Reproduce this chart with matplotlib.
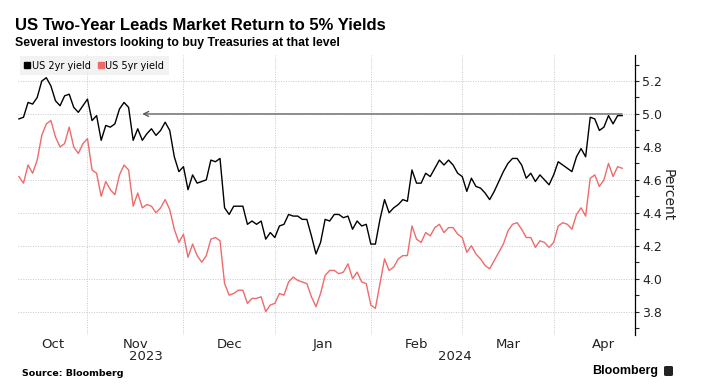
"""US 2yr vs 5yr Treasury yields, Bloomberg style chart."""

import matplotlib

matplotlib.use("Agg")
import matplotlib.pyplot as plt
import numpy as np
import pandas as pd
from matplotlib.lines import Line2D
from matplotlib.patches import FancyBboxPatch
from matplotlib.ticker import MultipleLocator

plt.rcParams["font.family"] = ["DejaVu Sans"]
NARROW = ["Liberation Sans Narrow", "Liberation Sans", "DejaVu Sans"]

BLACK = "#000000"
RED = "#ee6b6b"
GRID = "#c8c8c8"

# trading days (US bond market holidays removed)
START = "2023-10-11"
HOLIDAYS = ["2023-10-09", "2023-11-23", "2023-12-25", "2024-01-01",
            "2024-01-15", "2024-02-19", "2024-03-29"]

two_year = [
    4.97, 4.98, 5.07, 5.06, 5.10, 5.20, 5.22, 5.17, 5.08, 5.05, 5.11, 5.12, 5.04, 5.01, 5.05,
    5.09, 4.96, 4.99, 4.84, 4.93, 4.92, 4.94, 5.03, 5.07, 5.04, 4.84, 4.91, 4.84, 4.88, 4.91,
    4.87, 4.90, 4.95, 4.90, 4.74, 4.65,
    4.68, 4.54, 4.63, 4.58, 4.59, 4.60, 4.72, 4.71, 4.73, 4.43, 4.39, 4.44, 4.44, 4.44, 4.33,
    4.35, 4.33, 4.35, 4.24, 4.28,
    4.25, 4.32, 4.33, 4.39, 4.38, 4.38, 4.36, 4.36, 4.26, 4.15, 4.22, 4.36, 4.35, 4.39, 4.39,
    4.37, 4.38, 4.30, 4.35, 4.32, 4.33,
    4.21, 4.21, 4.36, 4.48, 4.40, 4.43, 4.45, 4.48, 4.47, 4.66, 4.58, 4.58, 4.64, 4.62, 4.67,
    4.72, 4.69, 4.72, 4.69, 4.64,
    4.62, 4.53, 4.61, 4.56, 4.55, 4.52, 4.48, 4.53, 4.59, 4.65, 4.70, 4.73, 4.73, 4.69, 4.61,
    4.64, 4.59, 4.63, 4.60, 4.57,
    4.63, 4.71, 4.69, 4.67, 4.65, 4.74, 4.79, 4.74, 4.98, 4.97, 4.90, 4.92, 4.99, 4.94, 4.99,
    4.99,
]
five_year = [
    4.62, 4.58, 4.69, 4.64, 4.72, 4.87, 4.94, 4.96, 4.86, 4.80, 4.82, 4.92, 4.80, 4.76, 4.82,
    4.85, 4.66, 4.64, 4.50, 4.59, 4.54, 4.51, 4.63, 4.69, 4.66, 4.44, 4.52, 4.43, 4.45, 4.44,
    4.40, 4.43, 4.48, 4.42, 4.30, 4.22,
    4.27, 4.13, 4.21, 4.14, 4.10, 4.14, 4.24, 4.25, 4.23, 3.97, 3.90, 3.91, 3.93, 3.93, 3.85,
    3.88, 3.88, 3.89, 3.80, 3.84,
    3.85, 3.91, 3.90, 3.98, 4.01, 3.99, 3.98, 3.97, 3.89, 3.83, 3.91, 4.02, 4.05, 4.05, 4.03,
    4.04, 4.09, 4.00, 4.04, 3.98, 3.97,
    3.84, 3.82, 3.97, 4.12, 4.05, 4.07, 4.12, 4.14, 4.14, 4.32, 4.24, 4.22, 4.28, 4.26, 4.31,
    4.33, 4.28, 4.31, 4.31, 4.27,
    4.25, 4.16, 4.20, 4.15, 4.12, 4.08, 4.06, 4.11, 4.16, 4.21, 4.29, 4.33, 4.34, 4.30, 4.25,
    4.25, 4.19, 4.23, 4.22, 4.19,
    4.22, 4.32, 4.34, 4.33, 4.30, 4.39, 4.43, 4.38, 4.61, 4.63, 4.56, 4.60, 4.70, 4.62, 4.68,
    4.67,
]
series_names = ["US 2yr yield", "US 5yr yield"]
ref_level = 5.0

cal = pd.offsets.CustomBusinessDay(holidays=HOLIDAYS)
dates = pd.date_range(START, periods=len(two_year), freq=cal)
x = np.arange(len(dates))

# full calendar of trading days for month boundaries / label centres
full = pd.date_range("2023-10-02", "2024-04-30", freq=cal)
offset = full.get_loc(dates[0])
pos = np.arange(len(full)) - offset

fig = plt.figure(figsize=(7.01, 3.90), dpi=100)
ax = fig.add_axes([18 / 701, 55 / 390, 617 / 701, 280 / 390])

ax.plot(x, two_year, color=BLACK, lw=1.0, zorder=3)
ax.plot(x, five_year, color=RED, lw=1.0, zorder=3)

xlim = (-0.2, x[-1] + 2.8)
ax.set_xlim(*xlim)
ax.set_ylim(3.658, 5.358)

# 5% reference arrow
ax.annotate("", xy=(27, ref_level), xytext=(x[-1], ref_level),
            arrowprops=dict(arrowstyle="->", color="#555555", lw=0.9,
                            mutation_scale=9, shrinkA=0, shrinkB=0), zorder=2)

# month boundaries and labels
periods = full.to_period("M")
month_starts, month_centres, month_labels = [], [], []
for p in periods.unique():
    idx = pos[periods == p]
    lo, hi = idx[0], idx[-1] + 1
    if lo > xlim[0]:
        month_starts.append(lo)
    month_centres.append((max(lo, xlim[0]) + hi) / 2)
    month_labels.append(p.strftime("%b"))

ax.set_xticks(month_centres)
ax.set_xticklabels(month_labels, fontsize=9.5, color="#222222")
ax.set_xticks(month_starts, minor=True)
ax.tick_params(axis="x", which="both", length=0, pad=2)
ax.grid(True, axis="x", which="minor", color=GRID, lw=0.7, ls=(0, (1, 1.5)))

years = full.year
for yr in np.unique(years):
    idx = pos[years == yr]
    lo, hi = max(idx[0], xlim[0]), min(idx[-1] + 1, xlim[1])
    ax.text((lo + hi) / 2, -0.055, str(yr), transform=ax.get_xaxis_transform(),
            ha="center", va="top", fontsize=9.5, color="#222222")

# right y axis
ax.yaxis.tick_right()
ax.yaxis.set_label_position("right")
ax.yaxis.set_major_locator(MultipleLocator(0.2))
ax.yaxis.set_minor_locator(MultipleLocator(0.1))
ax.yaxis.set_major_formatter(matplotlib.ticker.FormatStrFormatter("%.1f"))
ax.tick_params(axis="y", which="both", length=3, width=0.8, direction="out",
               labelsize=9, pad=2, colors="#222222")
ax.grid(True, axis="y", which="major", color=GRID, lw=0.7, ls=(0, (1, 1.5)))
ax.set_ylabel("Percent", rotation=270, fontsize=10, labelpad=9, color="#222222")

for side in ["left", "top", "bottom"]:
    ax.spines[side].set_visible(False)
ax.spines["right"].set_linewidth(0.9)

# legend
handles = [Line2D([], [], marker="s", ls="", color=c, markersize=5)
           for c in (BLACK, RED)]
leg = ax.legend(handles, series_names, loc="upper left", bbox_to_anchor=(0.003, 0.995),
                ncol=2, fontsize=7, frameon=True, handlelength=0.6,
                handletextpad=0.15, columnspacing=0.8, borderpad=0.45,
                borderaxespad=0)
leg.get_frame().set_facecolor("#efefef")
leg.get_frame().set_edgecolor("none")
leg.get_frame().set_boxstyle("square", pad=0)

# titles and footer
fig.text(15 / 701, 1 - 30 / 390, "US Two-Year Leads Market Return to 5% Yields",
         family=NARROW, fontsize=12, fontweight="bold", va="baseline")
fig.text(15 / 701, 1 - 46 / 390, "Several investors looking to buy Treasuries at that level",
         family=NARROW, fontsize=8.8, fontweight="bold", va="baseline")
fig.text(22 / 701, 1 - 376 / 390, "Source: Bloomberg", fontsize=6.8,
         fontweight="bold", va="baseline")
fig.text(658 / 701, 1 - 374 / 390, "Bloomberg", family=NARROW, fontsize=9,
         fontweight="bold", va="baseline", ha="right")
fig.patches.append(FancyBboxPatch((664 / 701, 1 - 376 / 390), 9 / 701, 10 / 390,
                                  boxstyle="round,pad=0,rounding_size=0.003",
                                  transform=fig.transFigure, facecolor="#222222",
                                  edgecolor="none"))

fig.savefig("out.png", dpi=100)
